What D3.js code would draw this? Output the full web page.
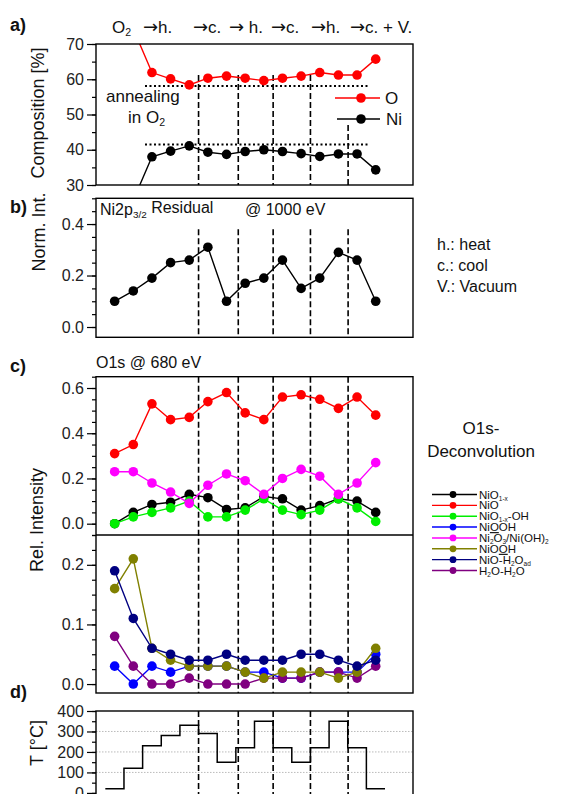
<!DOCTYPE html>
<html>
<head>
<meta charset="utf-8">
<script src="https://cdn.jsdelivr.net/npm/d3@7"></script>
<style>
  body { margin: 0; background: #fff; }
  svg { font-family: "Liberation Sans", Arial, sans-serif; }
  .frame { fill: none; stroke: #000; stroke-width: 1.4; }
  .tick text { font-size: 16px; fill: #222; }
  .tick line { stroke: #000; stroke-width: 1.2; }
  .domain { display: none; }
  .vdash { stroke: #000; stroke-width: 1.6; stroke-dasharray: 6,3; }
  .hdot { stroke: #000; stroke-width: 2; stroke-dasharray: 2,2.5; }
  .grid { stroke: #aaa; stroke-width: 0.8; stroke-dasharray: 1.5,1.5; }
  .arrow { font-family: "DejaVu Sans", sans-serif; font-size: 18px; }
</style>
</head>
<body>
<div id="plot"></div>
<script>
var svgWidth = 571;
var svgHeight = 794;

// measurement number (x position of every point)
var meas = [0, 1, 2, 3, 4, 5, 6, 7, 8, 9, 10, 11, 12, 13, 14];
// where the treatment changes (dashed lines)
var changes = [4.5, 6.63, 8.5, 10.5, 12.52];

// a) composition
var compO  = [75, 74.3, 61.9, 60.1, 58.4, 60.3, 60.9, 60.3, 59.6, 60.3, 60.9, 61.9, 61.2, 61.2, 65.7];
var compNi = [25, 25.7, 38.0, 39.6, 41.1, 39.3, 38.7, 39.5, 40.0, 39.5, 38.9, 38.1, 38.8, 38.8, 34.3];
var compRefO = 58.1, compRefNi = 41.5;
var compTicks = [30, 40, 50, 60, 70];

// b) Ni2p3/2 residual
var residual = [0.10, 0.14, 0.19, 0.25, 0.26, 0.31, 0.10, 0.17, 0.19, 0.26, 0.15, 0.19, 0.29, 0.26, 0.10];
var normTicks = [0.0, 0.2, 0.4];

// c) O1s deconvolution
var niO1x    = [0.00, 0.05, 0.085, 0.095, 0.13, 0.115, 0.063, 0.07, 0.12, 0.11, 0.06, 0.08, 0.11, 0.10, 0.05];
var niO      = [0.31, 0.35, 0.53, 0.46, 0.47, 0.54, 0.58, 0.49, 0.46, 0.56, 0.57, 0.55, 0.51, 0.56, 0.48];
var niO1xOH  = [0.00, 0.03, 0.05, 0.07, 0.10, 0.03, 0.03, 0.06, 0.11, 0.06, 0.04, 0.06, 0.11, 0.07, 0.01];
var ni2o3    = [0.23, 0.23, 0.18, 0.14, 0.09, 0.17, 0.22, 0.19, 0.13, 0.20, 0.24, 0.21, 0.13, 0.18, 0.27];
var niOOH1   = [0.03, 0.00, 0.03, 0.02, 0.03, 0.03, 0.03, 0.02, 0.02, 0.01, 0.01, 0.02, 0.02, 0.02, 0.05];
var niOOH2   = [0.16, 0.21, 0.06, 0.04, 0.03, 0.03, 0.03, 0.02, 0.01, 0.02, 0.02, 0.02, 0.01, 0.02, 0.06];
var niOH2Oad = [0.19, 0.11, 0.06, 0.05, 0.04, 0.04, 0.05, 0.04, 0.04, 0.04, 0.05, 0.05, 0.04, 0.03, 0.04];
var h2oH2O   = [0.08, 0.03, 0.00, 0.00, 0.01, 0.00, 0.00, 0.00, 0.01, 0.01, 0.01, 0.02, 0.02, 0.01, 0.03];
var relTicksUp = [0.0, 0.2, 0.4, 0.6];
var relTicksLo = [0.0, 0.1, 0.2];

// d) temperature
var temp = [20, 120, 230, 280, 330, 290, 150, 220, 350, 220, 150, 220, 350, 220, 20];
var tempTicks = [0, 100, 200, 300, 400];

var svg = d3.select("#plot").append("svg")
  .attr("width", svgWidth)
  .attr("height", svgHeight);

var left = 96, right = 413;
var x = d3.scaleLinear().domain([-1, 16]).range([left, right]);

var yA = d3.scaleLinear().domain([30, 70]).range([185, 44]);
var yB = d3.scaleLinear().domain([-0.04, 0.5]).range([337.3, 198.3]);
var yC1 = d3.scaleLinear().domain([-0.05, 0.65]).range([535, 376.7]);
var yC2 = d3.scaleLinear().domain([-0.015, 0.25]).range([693, 535]);
var yD = d3.scaleLinear().domain([-20, 400]).range([797, 711]);

function minorTicks(scale, step) {
  var d = scale.domain(), out = [];
  var start = Math.ceil(d[0] / step - 1e-6);
  for (var i = start; i * step <= d[1] + 1e-9; i++) out.push(+(i * step).toFixed(4));
  return out;
}

function yAxis(scale, major, minor, fmt) {
  svg.append("g")
    .attr("transform", `translate(${left},0)`)
    .call(d3.axisLeft(scale).tickValues(minorTicks(scale, minor)).tickSize(4).tickFormat(""));
  svg.append("g")
    .attr("transform", `translate(${left},0)`)
    .call(d3.axisLeft(scale).tickValues(major).tickSize(9).tickPadding(3).tickFormat(fmt));
}

function frame(top, bottom) {
  svg.append("rect").attr("class", "frame")
    .attr("x", left).attr("y", top)
    .attr("width", right - left).attr("height", bottom - top);
}

function clip(id, top, bottom) {
  svg.append("clipPath").attr("id", id)
    .append("rect").attr("x", left).attr("y", top)
    .attr("width", right - left).attr("height", bottom - top);
}

function series(scale, values, color, clipId, r) {
  var g = svg.append("g").attr("clip-path", `url(#${clipId})`);
  var line = d3.line().x((d, i) => x(meas[i])).y(d => scale(d));
  g.append("path").datum(values)
    .attr("d", line)
    .attr("fill", "none")
    .attr("stroke", color)
    .attr("stroke-width", 1.4);
  g.selectAll("circle").data(values).enter().append("circle")
    .attr("cx", (d, i) => x(meas[i]))
    .attr("cy", d => scale(d))
    .attr("r", r || 4.8)
    .attr("fill", color);
}

function dashes(y1, y2) {
  svg.append("g").selectAll("line").data(changes).enter().append("line")
    .attr("class", "vdash")
    .attr("x1", d => x(d)).attr("x2", d => x(d))
    .attr("y1", (d, i) => typeof y1 === "function" ? y1(i) : y1)
    .attr("y2", y2);
}

function label(txt, px, py, opts) {
  opts = opts || {};
  return svg.append("text")
    .attr("x", px).attr("y", py)
    .attr("font-size", opts.size || 16)
    .attr("font-weight", opts.weight || "normal")
    .attr("text-anchor", opts.anchor || "start")
    .attr("fill", "#111")
    .text(txt);
}

function arrowLabel(txt, px, py) {
  var t = label("", px, py, {size: 17});
  t.append("tspan").attr("class", "arrow").text("\u2192");
  t.append("tspan").text(txt);
}

function yTitle(txt, px, py) {
  svg.append("text")
    .attr("transform", `translate(${px},${py}) rotate(-90)`)
    .attr("text-anchor", "middle")
    .attr("font-size", 18)
    .attr("fill", "#111")
    .text(txt);
}

function sub(textSel, base, subTxt, rest) {
  textSel.text(null);
  textSel.append("tspan").text(base);
  textSel.append("tspan").attr("font-size", "0.62em").attr("dy", "0.3em").text(subTxt);
  if (rest) textSel.append("tspan").attr("dy", "-0.3em").text(rest);
}

// ---------------- a) ----------------
clip("clipA", 44, 185);
yAxis(yA, compTicks, 5, d3.format("d"));

dashes(i => i === 4 ? yA(47) : yA(61.2), yA(30));
svg.append("line").attr("class", "hdot")
  .attr("x1", 145).attr("x2", 368).attr("y1", yA(compRefO)).attr("y2", yA(compRefO));
svg.append("line").attr("class", "hdot")
  .attr("x1", 145).attr("x2", 368).attr("y1", yA(compRefNi)).attr("y2", yA(compRefNi));

series(yA, compO, "#ff0000", "clipA");
series(yA, compNi, "#000000", "clipA");
frame(44, 185);

label("a)", 10, 31, {size: 18, weight: "bold"});
var o2 = label("", 112, 33, {size: 17});
sub(o2, "O", "2");
arrowLabel("h.", 143, 33);
arrowLabel("c.", 193, 33);
arrowLabel(" h.", 229, 33);
arrowLabel("c.", 271, 33);
arrowLabel("h.", 311, 33);
arrowLabel("c. + V.", 350, 33);

label("annealing", 106, 102, {size: 17});
var inO2 = label("", 128, 123, {size: 17});
sub(inO2, "in O", "2");

// legend a
svg.append("line").attr("x1", 335).attr("x2", 380).attr("y1", 98).attr("y2", 98)
  .attr("stroke", "#ff0000").attr("stroke-width", 1.4);
svg.append("circle").attr("cx", 361).attr("cy", 98).attr("r", 4.8).attr("fill", "#ff0000");
label("O", 385, 104, {size: 17});
svg.append("line").attr("x1", 337).attr("x2", 380).attr("y1", 119).attr("y2", 119)
  .attr("stroke", "#000").attr("stroke-width", 1.4);
svg.append("circle").attr("cx", 361).attr("cy", 119).attr("r", 4.8).attr("fill", "#000");
label("Ni", 386, 125, {size: 17});

yTitle("Composition [%]", 44, 113);

// ---------------- b) ----------------
clip("clipB", 198.3, 337.3);
yAxis(yB, normTicks, 0.05, d3.format(".1f"));
dashes(yB(0.38), yB(-0.04));
series(yB, residual, "#000000", "clipB");
frame(198.3, 337.3);

label("b)", 10, 213, {size: 18, weight: "bold"});
var ni2p = label("", 100, 215, {size: 16});
sub(ni2p, "Ni2p", "3/2", " Residual");
label("@ 1000 eV", 245, 215);
yTitle("Norm. Int.", 45, 232);

label("h.: heat", 437, 250);
label("c.: cool", 437, 271);
label("V.: Vacuum", 437, 292);

// ---------------- c) ----------------
clip("clipC1", 376.7, 535);
clip("clipC2", 535, 693);
yAxis(yC1, relTicksUp, 0.05, d3.format(".1f"));
yAxis(yC2, relTicksLo, 0.025, d3.format(".1f"));
dashes(376.7, 693);

series(yC1, niO1x, "#000000", "clipC1");
series(yC1, niO, "#ff0000", "clipC1");
series(yC1, niO1xOH, "#00ee00", "clipC1");
series(yC1, ni2o3, "#ff00ff", "clipC1");

series(yC2, niOOH1, "#0000ff", "clipC2");
series(yC2, h2oH2O, "#800080", "clipC2");
series(yC2, niOOH2, "#808000", "clipC2");
series(yC2, niOH2Oad, "#000080", "clipC2");

frame(376.7, 693);
svg.append("line").attr("x1", left).attr("x2", right).attr("y1", 535).attr("y2", 535)
  .attr("stroke", "#000").attr("stroke-width", 1.4);

label("c)", 10, 372, {size: 18, weight: "bold"});
label("O1s @ 680 eV", 96, 368);
yTitle("Rel. Intensity", 43, 520);

// legend c
label("O1s-", 481, 434, {size: 17, anchor: "middle"});
label("Deconvolution", 481, 457, {size: 17, anchor: "middle"});

var legendC = [
  {color: "#000000", parts: [["NiO"], ["1-x", "sub"]]},
  {color: "#ff0000", parts: [["NiO"]]},
  {color: "#00ee00", parts: [["NiO"], ["1-x", "sub"], ["-OH"]]},
  {color: "#0000ff", parts: [["Ni"], ["O", "u"], ["OH"]]},
  {color: "#ff00ff", parts: [["Ni"], ["2", "sub"], ["O"], ["3", "sub"], ["/Ni(OH)"], ["2", "sub"]]},
  {color: "#808000", parts: [["NiO"], ["O", "u"], ["H"]]},
  {color: "#000080", parts: [["NiO-H"], ["2", "sub"], ["O"], ["ad", "sub"]]},
  {color: "#800080", parts: [["H"], ["2", "sub"], ["O-H"], ["2", "sub"], ["O"]]}
];
var rowY = d3.scaleLinear().domain([0, 7]).range([494.5, 570.5]);
legendC.forEach(function(e, i) {
  var yy = rowY(i);
  svg.append("line").attr("x1", 432).attr("x2", 477).attr("y1", yy).attr("y2", yy)
    .attr("stroke", e.color).attr("stroke-width", 1.4);
  svg.append("circle").attr("cx", 453).attr("cy", yy).attr("r", 3.4).attr("fill", e.color);
  var t = svg.append("text").attr("x", 479).attr("y", yy + 4)
    .attr("font-size", 11.5).attr("fill", "#111");
  var down = false;
  e.parts.forEach(function(p) {
    var ts = t.append("tspan").text(p[0]);
    if (p[1] === "sub") {
      ts.attr("font-size", "6.5px").attr("dy", down ? null : 2);
      down = true;
    } else {
      if (down) { ts.attr("dy", -2); down = false; }
      if (p[1] === "u") ts.attr("text-decoration", "underline");
    }
  });
});

// ---------------- d) ----------------
svg.append("g").selectAll("line").data([100, 200, 300]).enter().append("line")
  .attr("class", "grid")
  .attr("x1", left).attr("x2", right)
  .attr("y1", d => yD(d)).attr("y2", d => yD(d));
yAxis(yD, tempTicks, 50, d3.format("d"));
dashes(711, 797);

var stepLine = d3.line()
  .x(d => x(d[0]))
  .y(d => yD(d[1]))
  .curve(d3.curveStepAfter);
var stepData = meas.map((m, i) => [m - 0.5, temp[i]]);
stepData.push([meas[meas.length - 1] + 0.5, temp[temp.length - 1]]);
svg.append("path").datum(stepData)
  .attr("d", stepLine)
  .attr("fill", "none")
  .attr("stroke", "#000")
  .attr("stroke-width", 1.5);
frame(711, 797);

label("d)", 10, 698, {size: 18, weight: "bold"});
yTitle("T [\u00b0C]", 43, 743);
</script>
</body>
</html>
